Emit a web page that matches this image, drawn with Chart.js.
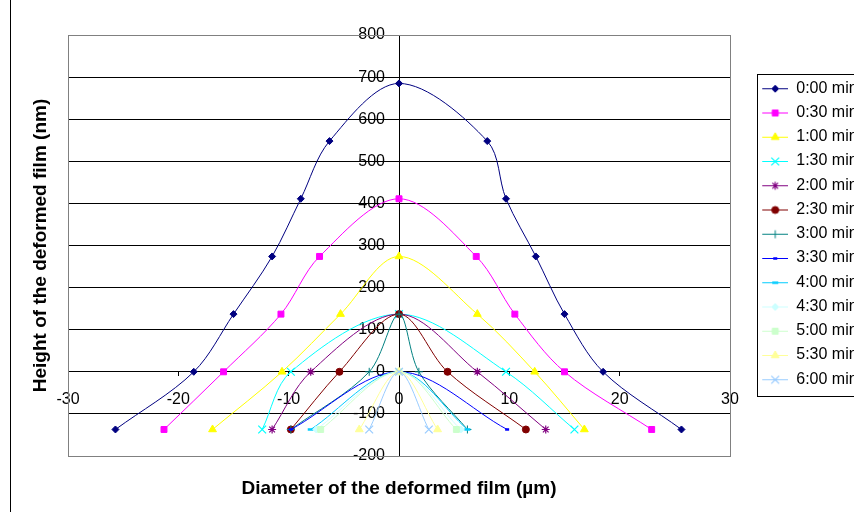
<!DOCTYPE html>
<html>
<head>
<meta charset="utf-8">
<script src="https://cdn.jsdelivr.net/npm/chart.js@4.4.1/dist/chart.umd.min.js"></script>
<style>
  html, body { margin: 0; padding: 0; background: #fff; }
  #wrap { position: relative; width: 854px; height: 512px; overflow: hidden; }
  #wrap canvas { position: absolute; left: 0; top: 0; }
  #frame { position: absolute; left: 10px; top: 0; width: 0; height: 512px; border-left: 1px solid #000; }
</style>
</head>
<body>
<div id="wrap">
  <canvas id="profileChart" width="854" height="512"></canvas>
  <div id="frame"></div>
</div>
<script>
// Time of each measured profile
var timeLabels = ['0:00 min', '0:30 min', '1:00 min', '1:30 min', '2:00 min', '2:30 min', '3:00 min',
	'3:30 min', '4:00 min', '4:30 min', '5:00 min', '5:30 min', '6:00 min'];

// Diameter (µm) / height (nm) pairs
var x0000 = [-25.7, -18.6, -15.0, -11.5, -8.9, -6.3, 0, 8.0, 9.7, 12.4, 15.0, 18.5, 25.6];
var y0000 = [-137, 0, 137, 274, 411, 548, 685, 548, 411, 274, 137, 0, -137];
var x0030 = [-21.3, -15.9, -10.7, -7.2, 0, 7.0, 10.5, 15.0, 22.9];
var y0030 = [-137, 0, 137, 274, 411, 274, 137, 0, -137];
var x0100 = [-16.9, -10.6, -5.3, 0, 7.1, 12.3, 16.8];
var y0100 = [-137, 0, 137, 274, 137, 0, -137];
var x0130 = [-12.4, -9.8, 0, 9.7, 15.9];
var y0130 = [-137, 0, 137, 0, -137];
var x0200 = [-11.5, -8.0, 0, 7.1, 13.3];
var y0200 = [-137, 0, 137, 0, -137];
var x0230 = [-9.8, -5.4, 0, 4.4, 11.5];
var y0230 = [-137, 0, 137, 0, -137];
var x0300 = [-9.8, -2.7, 0, 1.8, 6.2];
var y0300 = [-137, 0, 137, 0, -137];
var x0330 = [-9.8, 0, 9.8];
var y0330 = [-137, 0, -137];
var x0400 = [-8.0, 0, 6.2];
var y0400 = [-137, 0, -137];
var x0430 = [-7.5, 0, 5.6];
var y0430 = [-137, 0, -137];
var x0500 = [-7.1, 0, 5.2];
var y0500 = [-137, 0, -137];
var x0530 = [-3.6, 0, 3.5];
var y0530 = [-137, 0, -137];
var x0600 = [-2.7, 0, 2.7];
var y0600 = [-137, 0, -137];

var profilesX = [x0000, x0030, x0100, x0130, x0200, x0230, x0300, x0330, x0400, x0430, x0500, x0530, x0600];
var profilesY = [y0000, y0030, y0100, y0130, y0200, y0230, y0300, y0330, y0400, y0430, y0500, y0530, y0600];

// Axis ranges
var xMin = -30, xMax = 30, xStep = 10;
var yMin = -200, yMax = 800, yStep = 100;

// Excel-style series look
var seriesColors = ['#000080', '#FF00FF', '#FFFF00', '#00FFFF', '#800080', '#800000', '#008080',
	'#0000FF', '#00CCFF', '#CCFFFF', '#CCFFCC', '#FFFF99', '#99CCFF'];
var markerStyles = ['rectRot', 'rect', 'triangle', 'crossRot', 'star', 'circle', 'cross',
	'line', 'line', 'rectRot', 'rect', 'triangle', 'crossRot'];
var markerSizes = [3.5, 4.2, 4.5, 5.5, 4, 3.5, 4, 2, 3, 3.5, 4.2, 4.5, 5.5];
var markerBorders = [1, 1, 1, 1.2, 1.2, 1, 1, 2.5, 2.5, 1, 1, 1, 1.2];

Chart.defaults.font.family = '"Liberation Sans", Arial, sans-serif';
Chart.defaults.color = '#000';

var LEGEND_PAD = 8.25;
var Y_LABEL_GAP = 14;	// y labels sit this far left of the centred axis

/**
 * Legend symbol: a short line with the series marker on it (blank space on the left
 * keeps the symbol off the plot edge).
 */
function legendIcon(i) {
	var c = document.createElement('canvas');
	c.width = 50;
	c.height = 14;
	var ctx = c.getContext('2d');
	ctx.strokeStyle = seriesColors[i];
	ctx.fillStyle = seriesColors[i];
	ctx.lineWidth = 1;
	ctx.beginPath();
	ctx.moveTo(24, 7.5);
	ctx.lineTo(50, 7.5);
	ctx.stroke();
	if (Chart.helpers && Chart.helpers.drawPoint) {
		ctx.lineWidth = markerBorders[i];
		Chart.helpers.drawPoint(ctx, {
			pointStyle: markerStyles[i],
			radius: markerSizes[i],
			borderWidth: markerBorders[i],
			rotation: 0
		}, 37, 7.5);
	}
	return c;
}
var legendIcons = timeLabels.map(function (l, i) { return legendIcon(i); });

// Grey plot-area frame and the black legend box
var framePlugin = {
	id: 'frames',
	beforeDatasetsDraw: function (chart) {
		var ca = chart.chartArea, ctx = chart.ctx;
		ctx.save();
		ctx.strokeStyle = '#808080';
		ctx.lineWidth = 1;
		ctx.strokeRect(ca.left + 0.5, ca.top + 0.5, ca.right - ca.left, ca.bottom - ca.top);
		ctx.restore();
	},
	afterDraw: function (chart) {
		var lg = chart.legend;
		if (!lg || !lg.legendHitBoxes || !lg.legendHitBoxes.length) return;
		var hb = lg.legendHitBoxes;
		var last = hb[hb.length - 1];
		var left = Math.round(lg.left + 27) + 0.5;
		var top = Math.round(hb[0].top - 6) + 0.5;
		var bottom = Math.round(last.top + last.height + 9) + 0.5;
		var ctx = chart.ctx;
		ctx.save();
		ctx.strokeStyle = '#000';
		ctx.lineWidth = 1;
		ctx.strokeRect(left, top, 200, bottom - top);
		ctx.restore();
	}
};

var datasets = timeLabels.map(function (label, i) {
	return {
		label: label,
		data: profilesX[i].map(function (x, j) { return {x: x, y: profilesY[i][j]}; }),
		showLine: true,
		tension: 0.33,
		borderColor: seriesColors[i],
		backgroundColor: seriesColors[i],
		borderWidth: 1,
		pointStyle: markerStyles[i],
		pointRadius: markerSizes[i],
		pointBorderWidth: markerBorders[i],
		pointBackgroundColor: seriesColors[i],
		pointBorderColor: seriesColors[i],
		order: -i	// later series on top, like the original
	};
});

var profileChart = new Chart(document.getElementById('profileChart'), {
	type: 'scatter',
	data: { datasets: datasets },
	plugins: [framePlugin],
	options: {
		responsive: false,
		animation: false,
		events: [],
		layout: { padding: { left: 12, top: 35, right: 0, bottom: 0 } },
		scales: {
			x: {
				type: 'linear',
				position: { y: 0 },
				min: xMin,
				max: xMax,
				ticks: { stepSize: xStep, padding: 14, font: { size: 16 }, color: '#000' },
				grid: { drawOnChartArea: false, tickLength: 4, color: '#000' },
				border: { color: '#000' }
			},
			y: {
				type: 'linear',
				position: { x: 0 },
				min: yMin,
				max: yMax,
				ticks: { stepSize: yStep, padding: 8, font: { size: 16 }, color: '#000' },
				grid: { tickLength: 6, color: '#000' },
				border: { color: '#000' },
				// centred y axis puts labels right on the axis line; push them left
				afterUpdate: function (scale) {
					if (scale._labelsShifted) return;
					var orig = scale._computeLabelItems;
					scale._computeLabelItems = function (ca) {
						var items = orig.call(this, ca);
						items.forEach(function (it) {
							if (it.options && it.options.translation) {
								it.options.translation[0] -= Y_LABEL_GAP;
							} else if (typeof it.x === 'number') {
								it.x -= Y_LABEL_GAP;
							}
						});
						return items;
					};
					scale._labelsShifted = true;
				}
			}
		},
		plugins: {
			tooltip: { enabled: false },
			legend: {
				position: 'right',
				align: 'start',
				fullSize: false,
				maxWidth: 124,
				title: { display: true, text: ' ', padding: 0, font: { size: 10, lineHeight: '37px' } },
				labels: {
					usePointStyle: true,
					pointStyleWidth: 50,
					padding: LEGEND_PAD,
					color: '#000',
					font: { size: 16 },
					sort: function (a, b) { return a.datasetIndex - b.datasetIndex; },
					generateLabels: function (chart) {
						var items = Chart.defaults.plugins.legend.labels.generateLabels(chart);
						items.forEach(function (it) {
							it.pointStyle = legendIcons[it.datasetIndex];
							it.fontColor = '#000';
						});
						return items;
					}
				}
			},
			title: {
				display: true,
				position: 'bottom',
				fullSize: false,
				text: 'Diameter of the deformed film (µm)',
				color: '#000',
				font: { size: 19, weight: 'bold' },
				padding: { top: 21, bottom: 12.2 }
			},
			subtitle: {
				display: true,
				position: 'left',
				fullSize: false,
				text: 'Height of the deformed film (nm)',
				color: '#000',
				font: { size: 19, weight: 'bold' },
				padding: { top: 17.6, bottom: 15.6 }
			}
		}
	}
});
</script>
</body>
</html>
